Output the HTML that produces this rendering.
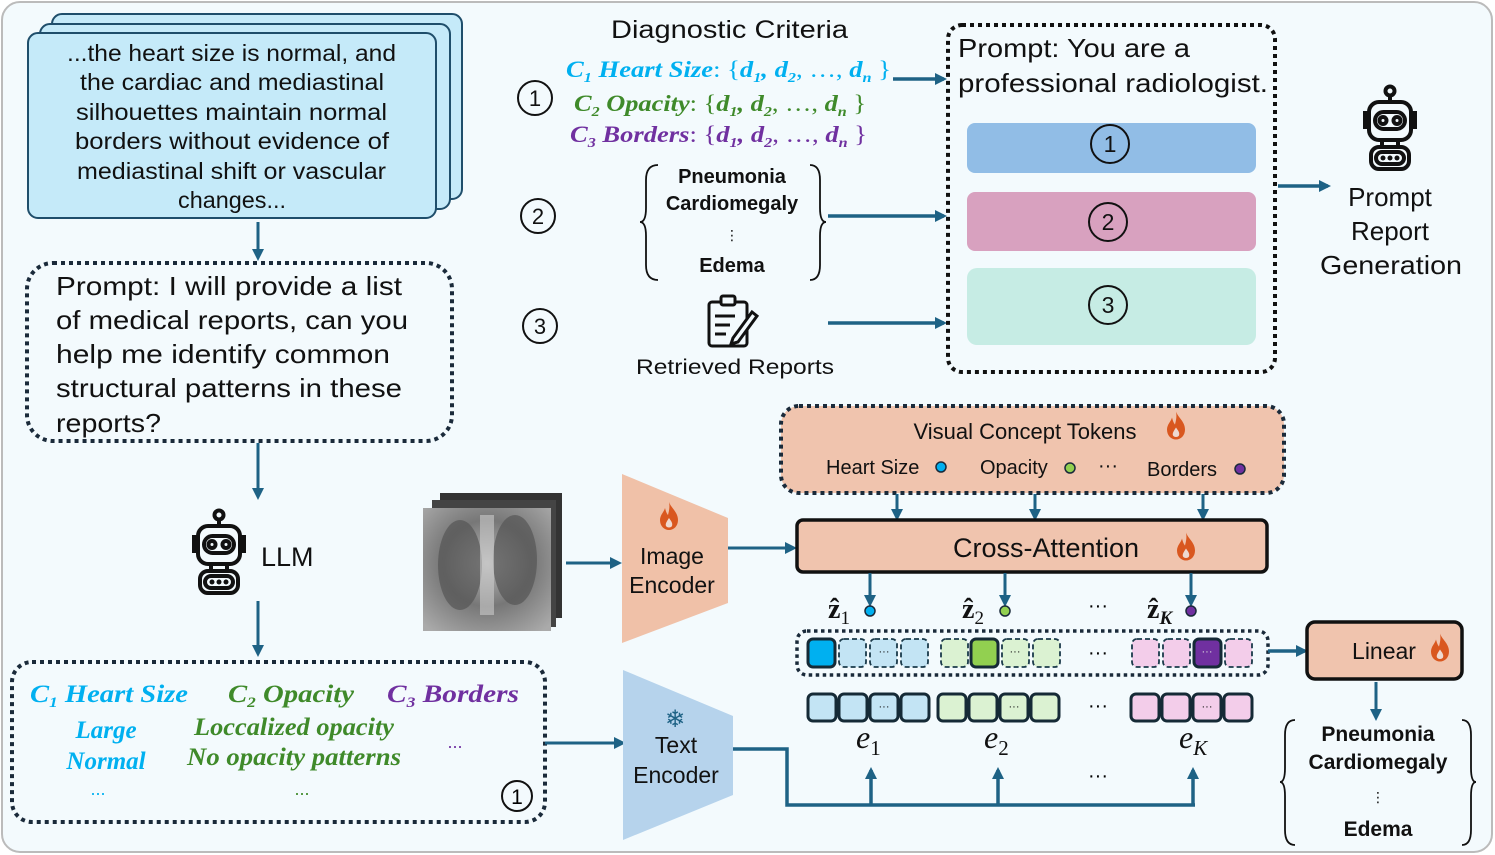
<!DOCTYPE html>
<html><head><meta charset="utf-8"><style>
html,body{margin:0;padding:0;background:#fff}
svg{display:block}
</style></head><body>
<svg width="1495" height="855" viewBox="0 0 1495 855" xmlns="http://www.w3.org/2000/svg" font-family="Liberation Sans, DejaVu Sans, sans-serif">
<defs>
<marker id="ar" markerWidth="12" markerHeight="12" refX="9" refY="6" orient="auto" markerUnits="userSpaceOnUse" viewBox="0 0 12 12">
<path d="M0,0 L12,6 L0,12 z" fill="#1e6285"/></marker>
<symbol id="robot" viewBox="0 0 60 85" overflow="visible">
<g fill="none" stroke="#111" stroke-width="4">
<circle cx="30" cy="6" r="4.5"/><line x1="30" y1="11" x2="30" y2="17"/>
<rect x="9" y="17" width="42" height="38" rx="10"/>
<rect x="15" y="27" width="30" height="17" rx="8.5"/>
<circle cx="23" cy="35.5" r="3.5"/><circle cx="37" cy="35.5" r="3.5"/>
<path d="M9,28 h-4 v14 h4 M51,28 h4 v14 h-4"/>
<line x1="22" y1="55" x2="22" y2="62"/><line x1="38" y1="55" x2="38" y2="62"/>
<rect x="11" y="62" width="38" height="22" rx="8"/>
<rect x="16" y="67" width="28" height="12" rx="6"/>
</g>
<circle cx="23" cy="73" r="2.5" fill="#111"/><circle cx="30" cy="73" r="2.5" fill="#111"/><circle cx="37" cy="73" r="2.5" fill="#111"/>
</symbol>
<symbol id="flame" viewBox="0 0 20 28" overflow="visible">
<path d="M10,0 C12,6 19,10 19,18 C19,24 15,28 10,28 C5,28 1,24 1,18 C1,13 5,10 6,6 C7,10 8,12 9,13 C10,9 11,5 10,0 z" fill="#d9571f"/>
<path d="M10,16 C12,19 14,21 13,24 C12,26 8,26 7,24 C6,22 8,19 10,16z" fill="#f3fafd" opacity=".8"/>
</symbol>
<radialGradient id="xr" cx="50%" cy="45%" r="70%"><stop offset="0" stop-color="#bbb"/><stop offset=".5" stop-color="#777"/><stop offset="1" stop-color="#aaa"/></radialGradient>
</defs>
<rect x="0" y="0" width="1495" height="855" fill="#fff"/>
<rect x="2" y="2" width="1490" height="850" rx="18" fill="#f3fafd" stroke="#bbb" stroke-width="2"/>

<rect x="52" y="14" width="410" height="185" rx="10" fill="#c5eaf9" stroke="#1f4e6b" stroke-width="2"/>
<rect x="40" y="24" width="410" height="185" rx="10" fill="#c5eaf9" stroke="#1f4e6b" stroke-width="2"/>
<rect x="28" y="33" width="408" height="185" rx="10" fill="#c5eaf9" stroke="#1f4e6b" stroke-width="2"/>
<g font-size="23" fill="#111" lengthAdjust="spacingAndGlyphs">
<text x="67" y="61" textLength="329" lengthAdjust="spacingAndGlyphs">...the heart size is normal, and</text>
<text x="80" y="90" textLength="304" lengthAdjust="spacingAndGlyphs">the cardiac and mediastinal</text>
<text x="76" y="120" textLength="311" lengthAdjust="spacingAndGlyphs">silhouettes maintain normal</text>
<text x="75" y="149" textLength="314" lengthAdjust="spacingAndGlyphs">borders without evidence of</text>
<text x="77" y="179" textLength="309" lengthAdjust="spacingAndGlyphs">mediastinal shift or vascular</text>
<text x="178" y="208" textLength="108" lengthAdjust="spacingAndGlyphs">changes...</text>
</g>
<line x1="258" y1="222" x2="258" y2="258" stroke="#1e6285" stroke-width="3" marker-end="url(#ar)"/>

<rect x="27" y="263" width="425" height="178" rx="26" fill="none" stroke="#1a2a3a" stroke-width="4" stroke-dasharray="4 4"/>
<g font-size="26" fill="#111">
<text x="56" y="295" textLength="346" lengthAdjust="spacingAndGlyphs">Prompt: I will provide a list</text>
<text x="56" y="329" textLength="352" lengthAdjust="spacingAndGlyphs">of medical reports, can you</text>
<text x="56" y="363" textLength="334" lengthAdjust="spacingAndGlyphs">help me identify common</text>
<text x="56" y="397" textLength="346" lengthAdjust="spacingAndGlyphs">structural patterns in these</text>
<text x="56" y="432" textLength="105" lengthAdjust="spacingAndGlyphs">reports?</text>
</g>
<line x1="258" y1="443" x2="258" y2="497" stroke="#1e6285" stroke-width="3" marker-end="url(#ar)"/>
<use href="#robot" x="188" y="509" width="62" height="85"/>
<text x="261" y="566" font-size="27" fill="#111">LLM</text>
<line x1="258" y1="601" x2="258" y2="654" stroke="#1e6285" stroke-width="3" marker-end="url(#ar)"/>

<rect x="12" y="662" width="533" height="160" rx="20" fill="none" stroke="#1a2a3a" stroke-width="4" stroke-dasharray="4 4"/>
<g font-family="Liberation Serif, serif" font-style="italic" font-weight="bold" font-size="25">
<text x="30" y="702" fill="#00b0f0" textLength="158" lengthAdjust="spacingAndGlyphs">C<tspan font-size="15" dy="5">1</tspan><tspan dy="-5"> Heart Size</tspan></text>
<text x="228" y="702" fill="#3f8a2a" textLength="126" lengthAdjust="spacingAndGlyphs">C<tspan font-size="15" dy="5">2</tspan><tspan dy="-5"> Opacity</tspan></text>
<text x="387" y="702" fill="#7030a0" textLength="132" lengthAdjust="spacingAndGlyphs">C<tspan font-size="15" dy="5">3</tspan><tspan dy="-5"> Borders</tspan></text>
<text x="106" y="738" fill="#00b0f0" text-anchor="middle">Large</text>
<text x="106" y="769" fill="#00b0f0" text-anchor="middle">Normal</text>
<text x="194" y="735" fill="#3f8a2a" textLength="200" lengthAdjust="spacingAndGlyphs">Loccalized opacity</text>
<text x="187" y="765" fill="#3f8a2a" textLength="214" lengthAdjust="spacingAndGlyphs">No opacity patterns</text>
</g>
<text x="98" y="795" fill="#00b0f0" font-size="18" text-anchor="middle">...</text>
<text x="302" y="795" fill="#3f8a2a" font-size="18" text-anchor="middle">...</text>
<text x="455" y="748" fill="#7030a0" font-size="18" text-anchor="middle">...</text>
<circle cx="517" cy="796" r="15" fill="none" stroke="#111" stroke-width="2"/>
<text x="517" y="804" font-size="21" text-anchor="middle">1</text>
<line x1="545" y1="743" x2="623" y2="743" stroke="#1e6285" stroke-width="3" marker-end="url(#ar)"/>

<rect x="440" y="493" width="122" height="125" fill="#333"/>
<rect x="432" y="500" width="124" height="127" fill="#444"/>
<rect x="423" y="508" width="128" height="123" fill="url(#xr)"/>
<ellipse cx="460" cy="565" rx="22" ry="45" fill="#555" opacity=".7"/>
<ellipse cx="515" cy="560" rx="22" ry="45" fill="#555" opacity=".7"/>
<rect x="480" y="515" width="14" height="100" fill="#ccc" opacity=".6"/>
<line x1="566" y1="563" x2="619" y2="563" stroke="#1e6285" stroke-width="3" marker-end="url(#ar)"/>

<polygon points="622,474 728,518 728,603 622,643" fill="#f0c1a8"/>
<use href="#flame" x="659" y="502" width="20" height="28"/>
<text x="672" y="564" font-size="23" text-anchor="middle" fill="#111">Image</text>
<text x="672" y="593" font-size="23" text-anchor="middle" fill="#111">Encoder</text>
<line x1="728" y1="548" x2="794" y2="548" stroke="#1e6285" stroke-width="3" marker-end="url(#ar)"/>

<polygon points="623,670 733,716 733,795 623,840" fill="#b6d3ec"/>
<text x="675" y="727" font-size="24" text-anchor="middle" fill="#1e6285">❄</text>
<text x="676" y="753" font-size="23" text-anchor="middle" fill="#111">Text</text>
<text x="676" y="783" font-size="23" text-anchor="middle" fill="#111">Encoder</text>
<polyline points="733,749 787,749 787,805 1195,805" fill="none" stroke="#1e6285" stroke-width="3.5"/>
<line x1="871" y1="805" x2="871" y2="770" stroke="#1e6285" stroke-width="3.5" marker-end="url(#ar)"/>
<line x1="998" y1="805" x2="998" y2="770" stroke="#1e6285" stroke-width="3.5" marker-end="url(#ar)"/>
<line x1="1193" y1="805" x2="1193" y2="770" stroke="#1e6285" stroke-width="3.5" marker-end="url(#ar)"/>
<text x="1098" y="782" font-size="20" text-anchor="middle">···</text>

<text x="611" y="38" font-size="25" fill="#111" textLength="237" lengthAdjust="spacingAndGlyphs">Diagnostic Criteria</text>
<g font-family="Liberation Serif, serif" font-style="italic" font-weight="bold" font-size="23">
<text x="566" y="77" fill="#00b0f0" textLength="325" lengthAdjust="spacingAndGlyphs">C<tspan font-size="14" dy="5">1</tspan><tspan dy="-5"> Heart Size</tspan><tspan font-style="normal" font-weight="normal">: {</tspan>d<tspan font-size="14" dy="5">1</tspan><tspan dy="-5">, d</tspan><tspan font-size="14" dy="5">2</tspan><tspan dy="-5" font-weight="normal" font-style="normal">, …, </tspan>d<tspan font-size="14" dy="5">n</tspan><tspan dy="-5" font-style="normal" font-weight="normal"> }</tspan></text>
<text x="574" y="111" fill="#3f8a2a" textLength="292" lengthAdjust="spacingAndGlyphs">C<tspan font-size="14" dy="5">2</tspan><tspan dy="-5"> Opacity</tspan><tspan font-style="normal" font-weight="normal">: {</tspan>d<tspan font-size="14" dy="5">1</tspan><tspan dy="-5">, d</tspan><tspan font-size="14" dy="5">2</tspan><tspan dy="-5" font-weight="normal" font-style="normal">, …, </tspan>d<tspan font-size="14" dy="5">n</tspan><tspan dy="-5" font-style="normal" font-weight="normal"> }</tspan></text>
<text x="570" y="142" fill="#7030a0" textLength="297" lengthAdjust="spacingAndGlyphs">C<tspan font-size="14" dy="5">3</tspan><tspan dy="-5"> Borders</tspan><tspan font-style="normal" font-weight="normal">: {</tspan>d<tspan font-size="14" dy="5">1</tspan><tspan dy="-5">, d</tspan><tspan font-size="14" dy="5">2</tspan><tspan dy="-5" font-weight="normal" font-style="normal">, …, </tspan>d<tspan font-size="14" dy="5">n</tspan><tspan dy="-5" font-style="normal" font-weight="normal"> }</tspan></text>
</g>
<g fill="none" stroke="#111" stroke-width="2">
<circle cx="535" cy="98" r="17"/><circle cx="538" cy="216" r="17"/><circle cx="540" cy="326" r="17"/>
</g>
<g font-size="22" text-anchor="middle" fill="#111">
<text x="535" y="106">1</text><text x="538" y="224">2</text><text x="540" y="334">3</text>
</g>
<line x1="893" y1="79" x2="944" y2="79" stroke="#1e6285" stroke-width="3.5" marker-end="url(#ar)"/>
<path d="M658,165 Q646,165 646,180 L646,208 Q646,222 640,222 Q646,222 646,236 L646,265 Q646,280 658,280" fill="none" stroke="#111" stroke-width="1.8"/>
<path d="M810,165 Q820,165 820,180 L820,208 Q820,222 826,222 Q820,222 820,236 L820,265 Q820,280 810,280" fill="none" stroke="#111" stroke-width="1.8"/>
<g font-size="20" text-anchor="middle" fill="#111" font-weight="bold">
<text x="732" y="183">Pneumonia</text><text x="732" y="210">Cardiomegaly</text>
<text x="732" y="240" font-size="14" font-weight="normal">⋮</text><text x="732" y="272">Edema</text>
</g>
<line x1="828" y1="216" x2="944" y2="216" stroke="#1e6285" stroke-width="3.5" marker-end="url(#ar)"/>
<g fill="none" stroke="#111" stroke-width="3">
<rect x="709" y="302" width="38" height="44" rx="3"/>
<rect x="721" y="296" width="14" height="9" rx="2" fill="#f3fafd"/>
<line x1="715" y1="316" x2="735" y2="316"/><line x1="715" y1="325" x2="730" y2="325"/><line x1="715" y1="334" x2="726" y2="334"/>
<path d="M733,338 L752,312 L757,316 L738,342 L731,344 z" fill="#f3fafd"/>
</g>
<text x="636" y="374" font-size="21" fill="#111" textLength="198" lengthAdjust="spacingAndGlyphs">Retrieved Reports</text>
<line x1="828" y1="323" x2="944" y2="323" stroke="#1e6285" stroke-width="3.5" marker-end="url(#ar)"/>

<rect x="948" y="25" width="327" height="347" rx="14" fill="none" stroke="#111" stroke-width="4" stroke-dasharray="4 4"/>
<text x="958" y="57" font-size="26" fill="#111" textLength="232" lengthAdjust="spacingAndGlyphs">Prompt: You are a</text>
<text x="958" y="92" font-size="26" fill="#111" textLength="310" lengthAdjust="spacingAndGlyphs">professional radiologist.</text>
<rect x="967" y="123" width="289" height="50" rx="8" fill="#91bde6"/>
<rect x="967" y="192" width="289" height="59" rx="8" fill="#d8a1bf"/>
<rect x="967" y="268" width="289" height="77" rx="10" fill="#c6ece4"/>
<g fill="none" stroke="#111" stroke-width="2">
<circle cx="1110" cy="144" r="19"/><circle cx="1108" cy="222" r="19"/><circle cx="1108" cy="305" r="19"/>
</g>
<g font-size="23" text-anchor="middle" fill="#111">
<text x="1110" y="152">1</text><text x="1108" y="230">2</text><text x="1108" y="313">3</text>
</g>
<line x1="1278" y1="186" x2="1328" y2="186" stroke="#1e6285" stroke-width="3.5" marker-end="url(#ar)"/>
<use href="#robot" x="1358" y="85" width="64" height="85"/>
<g font-size="26" text-anchor="middle" fill="#111">
<text x="1390" y="206">Prompt</text><text x="1390" y="240">Report</text><text x="1320" y="274" text-anchor="start" textLength="142" lengthAdjust="spacingAndGlyphs">Generation</text>
</g>

<rect x="781" y="406" width="503" height="87" rx="18" fill="#f0c4ae" stroke="#1a2a3a" stroke-width="4" stroke-dasharray="4 4"/>
<text x="1025" y="439" font-size="22" text-anchor="middle" fill="#111">Visual Concept Tokens</text>
<use href="#flame" x="1166" y="411" width="20" height="29"/>
<g font-size="20" fill="#111">
<text x="826" y="474">Heart Size</text><text x="980" y="474">Opacity</text><text x="1098" y="472">···</text><text x="1147" y="476">Borders</text>
</g>
<circle cx="941" cy="467" r="5" fill="#00b0f0" stroke="#1a2a3a" stroke-width="1.5"/>
<circle cx="1070" cy="468" r="5" fill="#92d050" stroke="#1a2a3a" stroke-width="1.5"/>
<circle cx="1240" cy="469" r="5" fill="#7030a0" stroke="#1a2a3a" stroke-width="1.5"/>
<line x1="897" y1="494" x2="897" y2="518" stroke="#1e6285" stroke-width="3" marker-end="url(#ar)"/>
<line x1="1035" y1="494" x2="1035" y2="518" stroke="#1e6285" stroke-width="3" marker-end="url(#ar)"/>
<line x1="1203" y1="494" x2="1203" y2="518" stroke="#1e6285" stroke-width="3" marker-end="url(#ar)"/>

<rect x="797" y="520" width="470" height="52" rx="6" fill="#f0c4ae" stroke="#111" stroke-width="3.5"/>
<text x="1046" y="557" font-size="27" text-anchor="middle" fill="#111">Cross-Attention</text>
<use href="#flame" x="1176" y="532" width="20" height="29"/>
<line x1="870" y1="573" x2="870" y2="604" stroke="#1e6285" stroke-width="3" marker-end="url(#ar)"/>
<line x1="1005" y1="573" x2="1005" y2="604" stroke="#1e6285" stroke-width="3" marker-end="url(#ar)"/>
<line x1="1191" y1="573" x2="1191" y2="604" stroke="#1e6285" stroke-width="3" marker-end="url(#ar)"/>
<g font-family="Liberation Serif, serif" font-weight="bold" font-size="28" fill="#111">
<text x="828" y="618">ẑ<tspan font-size="19" dy="6" font-weight="normal">1</tspan></text>
<text x="962" y="618">ẑ<tspan font-size="19" dy="6" font-weight="normal">2</tspan></text>
<text x="1147" y="618">ẑ<tspan font-size="19" dy="6" font-style="italic">K</tspan></text>
</g>
<circle cx="870" cy="611" r="5" fill="#00b0f0" stroke="#1a2a3a" stroke-width="1.5"/>
<circle cx="1005" cy="611" r="5" fill="#92d050" stroke="#1a2a3a" stroke-width="1.5"/>
<circle cx="1191" cy="611" r="5" fill="#7030a0" stroke="#1a2a3a" stroke-width="1.5"/>
<text x="1098" y="612" font-size="20" text-anchor="middle">···</text>

<rect x="797" y="631" width="471" height="44" rx="10" fill="none" stroke="#1a2a3a" stroke-width="3.5" stroke-dasharray="3.5 3.5"/>
<g stroke="#1a3a4a" stroke-width="1.8" stroke-dasharray="5 3">
<rect x="839" y="639" width="27" height="28" rx="5" fill="#c3e4f4"/><rect x="870" y="639" width="27" height="28" rx="5" fill="#c3e4f4"/><rect x="901" y="639" width="27" height="28" rx="5" fill="#c3e4f4"/>
<rect x="941" y="639" width="27" height="28" rx="5" fill="#dbf2d2"/><rect x="1002" y="639" width="27" height="28" rx="5" fill="#dbf2d2"/><rect x="1033" y="639" width="27" height="28" rx="5" fill="#dbf2d2"/>
<rect x="1132" y="639" width="27" height="28" rx="5" fill="#f3cdea"/><rect x="1163" y="639" width="27" height="28" rx="5" fill="#f3cdea"/><rect x="1225" y="639" width="27" height="28" rx="5" fill="#f3cdea"/>
</g>
<g stroke="#152a36" stroke-width="3">
<rect x="808" y="639" width="27" height="28" rx="5" fill="#00b0f0"/>
<rect x="971" y="639" width="27" height="28" rx="5" fill="#92d050"/>
<rect x="1194" y="639" width="27" height="28" rx="5" fill="#7030a0"/>
</g>
<g stroke="#152a36" stroke-width="3">
<rect x="808" y="694" width="28" height="27" rx="5" fill="#c3e4f4"/><rect x="839" y="694" width="28" height="27" rx="5" fill="#c3e4f4"/><rect x="870" y="694" width="28" height="27" rx="5" fill="#c3e4f4"/><rect x="901" y="694" width="28" height="27" rx="5" fill="#c3e4f4"/>
<rect x="938" y="694" width="28" height="27" rx="5" fill="#dbf2d2"/><rect x="969" y="694" width="28" height="27" rx="5" fill="#dbf2d2"/><rect x="1000" y="694" width="28" height="27" rx="5" fill="#dbf2d2"/><rect x="1031" y="694" width="28" height="27" rx="5" fill="#dbf2d2"/>
<rect x="1131" y="694" width="28" height="27" rx="5" fill="#f3cdea"/><rect x="1162" y="694" width="28" height="27" rx="5" fill="#f3cdea"/><rect x="1193" y="694" width="28" height="27" rx="5" fill="#f3cdea"/><rect x="1224" y="694" width="28" height="27" rx="5" fill="#f3cdea"/>
</g>
<g font-size="11" text-anchor="middle" fill="#111">
<text x="884" y="655">···</text><text x="1015" y="655">···</text><text x="1207" y="655" fill="#ddd">···</text>
<text x="884" y="710">···</text><text x="1014" y="710">···</text><text x="1207" y="710">···</text>
</g>
<text x="1098" y="659" font-size="20" text-anchor="middle">···</text>
<text x="1098" y="712" font-size="20" text-anchor="middle">···</text>
<g font-family="Liberation Serif, serif" font-style="italic" font-size="32" fill="#111">
<text x="856" y="748">e<tspan font-size="21" dy="7" font-style="normal">1</tspan></text>
<text x="984" y="748">e<tspan font-size="21" dy="7" font-style="normal">2</tspan></text>
<text x="1179" y="748">e<tspan font-size="21" dy="7">K</tspan></text>
</g>
<line x1="1268" y1="651" x2="1305" y2="651" stroke="#1e6285" stroke-width="3.5" marker-end="url(#ar)"/>

<rect x="1307" y="622" width="155" height="57" rx="8" fill="#f0c4ae" stroke="#111" stroke-width="3.5"/>
<text x="1384" y="659" font-size="23" text-anchor="middle" fill="#111">Linear</text>
<use href="#flame" x="1430" y="633" width="20" height="29"/>
<line x1="1376" y1="682" x2="1376" y2="718" stroke="#1e6285" stroke-width="3" marker-end="url(#ar)"/>
<path d="M1295,720 Q1285,720 1285,735 L1285,768 Q1285,782 1280,782 Q1285,782 1285,796 L1285,830 Q1285,845 1295,845" fill="none" stroke="#111" stroke-width="1.8"/>
<path d="M1462,720 Q1471,720 1471,735 L1471,768 Q1471,782 1476,782 Q1471,782 1471,796 L1471,830 Q1471,845 1462,845" fill="none" stroke="#111" stroke-width="1.8"/>
<g font-size="21" text-anchor="middle" fill="#111" font-weight="bold">
<text x="1378" y="741">Pneumonia</text><text x="1378" y="769">Cardiomegaly</text>
<text x="1378" y="802" font-size="14" font-weight="normal">⋮</text><text x="1378" y="836">Edema</text>
</g>
</svg>
</body></html>
